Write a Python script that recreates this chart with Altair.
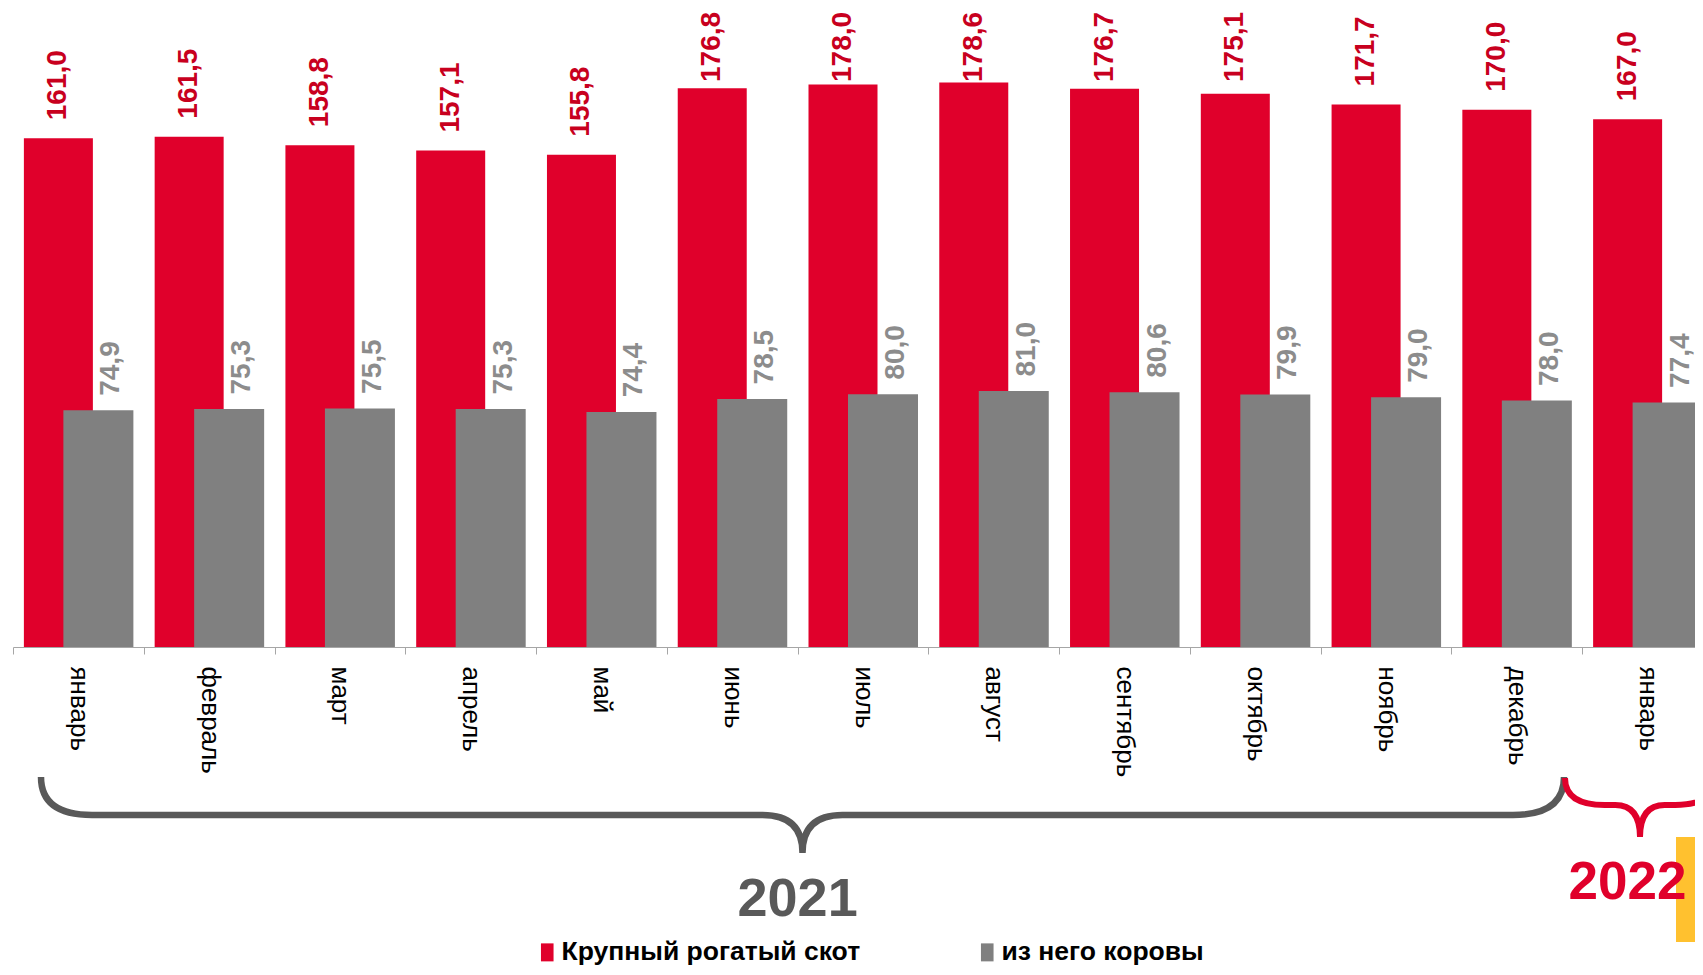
import altair as alt
import pandas as pd

months = ["январь", "февраль", "март", "апрель", "май", "июнь", "июль",
          "август", "сентябрь", "октябрь", "ноябрь", "декабрь", "январь"]
years = [2021] * 12 + [2022]
cattle = [161.0, 161.5, 158.8, 157.1, 155.8, 176.8, 178.0, 178.6, 176.7, 175.1, 171.7, 170.0, 167.0]
cows = [74.9, 75.3, 75.5, 75.3, 74.4, 78.5, 80.0, 81.0, 80.6, 79.9, 79.0, 78.0, 77.4]
series = ["Крупный рогатый скот", "из него коровы"]
colors = ["#E0002B", "#808080"]

keys = [f"{m}|{y}" for m, y in zip(months, years)]
df = pd.DataFrame({"key": keys, "cattle": cattle, "cows": cows})

RED = "#E0002B"
LABEL_RED = "#C8001E"
GRAY_LABEL = "#8C8C8C"
FONT = "Liberation Sans"

legend = alt.Legend(
    title=None, orient="none", legendX=521, legendY=924, direction="horizontal",
    symbolType="M-0.7,-1H0.7V1H-0.7Z", symbolSize=324, symbolStrokeWidth=0,
    labelFont=FONT, labelFontSize=26.5, labelFontWeight="bold", labelColor="black",
    labelLimit=0, columnPadding=113, labelOffset=1,
)
color_scale = alt.Scale(domain=series, range=colors)

x_enc = alt.X(
    "key:N", sort=keys, title=None,
    scale=alt.Scale(range=[0, 1700], paddingInner=0, paddingOuter=0),
    axis=alt.Axis(
        labelExpr="split(datum.label, '|')[0]", labelAngle=90, labelFont=FONT,
        labelFontSize=26, labelColor="black", labelPadding=12, labelOverlap=False,
        tickBand="extent", tickSize=7, tickColor="#A6A6A6", domainColor="#A6A6A6",
        grid=False,
    ),
)
y_scale = alt.Scale(domain=[0, 200], nice=False, zero=True)

base = alt.Chart(df).encode(x=x_enc)

red_bars = base.transform_calculate(series=f"'{series[0]}'").mark_bar(width=69, xOffset=-20).encode(
    y=alt.Y("cattle:Q", scale=y_scale, axis=None),
    color=alt.Color("series:N", scale=color_scale, legend=legend),
)
gray_bars = base.transform_calculate(series=f"'{series[1]}'").mark_bar(width=70, xOffset=20).encode(
    y=alt.Y("cows:Q", scale=y_scale, axis=None),
    color=alt.Color("series:N", scale=color_scale, legend=legend),
)

red_labels = base.transform_calculate(
    ly="min(datum.cattle + 5.7, 178.8)",
    lab="replace(format(datum.cattle, '.1f'), '.', ',')",
).mark_text(angle=270, align="left", baseline="middle", xOffset=-20,
            font=FONT, fontSize=28, fontWeight="bold", color=LABEL_RED).encode(
    y=alt.Y("ly:Q", scale=y_scale, axis=None), text="lab:N"
)
gray_labels = base.transform_calculate(
    ly="datum.cows + 4.6",
    lab="replace(format(datum.cows, '.1f'), '.', ',')",
).mark_text(angle=270, align="left", baseline="middle", xOffset=33,
            font=FONT, fontSize=28, fontWeight="bold", color=GRAY_LABEL).encode(
    y=alt.Y("ly:Q", scale=y_scale, axis=None), text="lab:N"
)

one = alt.Chart(pd.DataFrame({"a": [0]}))

gray_brace = one.mark_point(
    shape="M-1,-0.0499Q-1,0,-0.933,0L-0.0525,0Q0,0,0,0.0499Q0,0,0.0525,0L0.933,0Q1,0,1,-0.0499",
    size=(2 * 761.5) ** 2, filled=False, stroke="#595959", strokeWidth=6.5, opacity=1,
).encode(x=alt.value(789.5), y=alt.value(800))

red_brace = one.mark_point(
    shape="M-1,-0.36Q-1,0,-0.47,0L-0.33,0Q0,0,0,0.427Q0,0,0.33,0L0.47,0Q1,0,1,-0.36",
    size=150 ** 2, filled=False, stroke=RED, strokeWidth=6, opacity=1,
).encode(x=alt.value(1627), y=alt.value(790))

yellow = one.mark_rect(color="#FFC12F").encode(
    x=alt.value(1663), x2=alt.value(1700), y=alt.value(822), y2=alt.value(927)
)

t2021 = one.mark_text(text="2021", font=FONT, fontSize=54, fontWeight="bold",
                      color="#595959", align="center", baseline="alphabetic").encode(
    x=alt.value(784.6), y=alt.value(900.5))
t2022 = one.mark_text(text="2022", font=FONT, fontSize=53, fontWeight="bold",
                      color=RED, align="center", baseline="alphabetic").encode(
    x=alt.value(1614.5), y=alt.value(884))

chart = alt.layer(
    red_bars, gray_bars, red_labels, gray_labels, gray_brace, red_brace, yellow, t2021, t2022
).resolve_scale(color="shared").properties(
    width=1682, height=632, background="white",
    autosize=alt.AutoSizeParams(type="none"),
    padding={"left": 5, "top": 7, "right": 0, "bottom": 320},
).configure_view(stroke=None)

chart.save("out.html", embed_options={"renderer": "svg", "actions": False})
